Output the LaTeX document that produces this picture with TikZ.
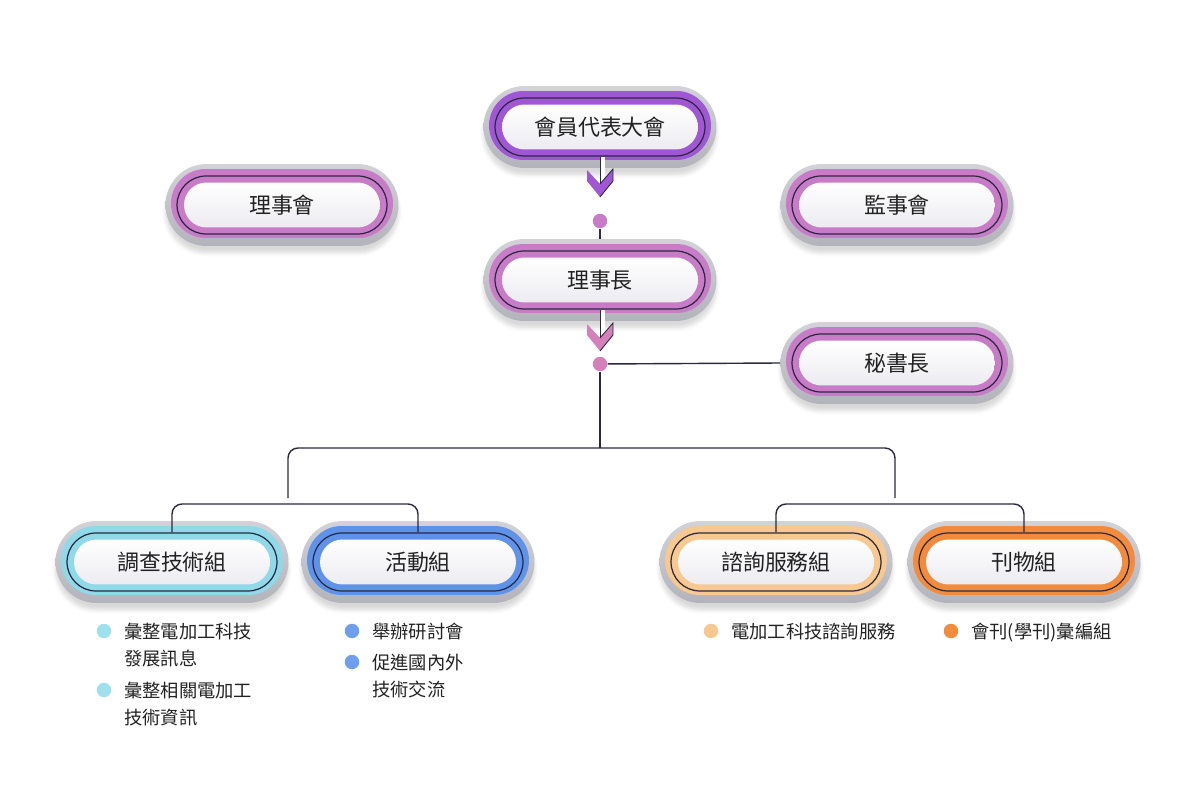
\documentclass[tikz,border=0pt]{standalone}
\usepackage{fontspec}
\setmainfont{Noto Sans CJK TC}
\usepackage{xcolor}
\usepackage{tikz}
\usetikzlibrary{positioning,calc,shapes.misc,shadows.blur}
\definecolor{ink}{HTML}{2B2940}
\definecolor{txt}{HTML}{222222}
\definecolor{shelltop}{HTML}{D2D2D8}
\definecolor{shellbot}{HTML}{B3B3BB}
\definecolor{coreb}{HTML}{ECECF1}
\definecolor{violet}{HTML}{9F57D3}
\definecolor{orchid}{HTML}{C87BC7}
\definecolor{rose}{HTML}{D580BA}
\definecolor{sky}{HTML}{8FD9E9}
\definecolor{azure}{HTML}{5F93EA}
\definecolor{peach}{HTML}{F7C88F}
\definecolor{tangerine}{HTML}{F28C3C}
\tikzset{
  shell/.style={rounded rectangle,inner sep=0pt,minimum width=46.6mm,minimum height=16.4mm,
    top color=shelltop,bottom color=shellbot,
    blur shadow={shadow xshift=0pt,shadow yshift=-1.4mm,shadow opacity=15,shadow blur steps=6}},
  band/.style={rounded rectangle,inner sep=0pt,minimum width=44.4mm,minimum height=13.8mm,
    fill=#1,yshift=0.3mm},
  rim/.style={rounded rectangle,inner sep=0pt,minimum width=42mm,minimum height=11.6mm,
    draw=ink,line width=0.7pt,fill=#1},
  core/.style={rounded rectangle,inner sep=0pt,minimum width=39.2mm,minimum height=9mm,
    top color=white,bottom color=coreb,text=txt,font=\fontsize{12.5}{15}\selectfont},
  link/.style={draw=ink,line width=0.8pt},
  joint/.style={circle,inner sep=0pt,minimum size=2.9mm,fill=#1},
  bullet/.style={circle,inner sep=0pt,minimum size=2.9mm,fill=#1},
  item/.style={anchor=base west,inner sep=0pt,align=left,text=txt,
    font=\fontsize{10.4}{15.3}\selectfont},
  shaft/.style={draw=ink,double=white,line width=0.5pt,double distance=0.8mm},
  % chevron head of the hollow arrows, tip at the origin
  pics/chev/.style={code={
    \path[pic actions] (-13,-27) -- (0,-13) -- (13,-28) -- (13,-16) -- (0,0) -- (-13,-16) -- cycle;
    \draw[ink,line width=0.5pt] (0,-13) -- (13,-28) -- (13,-16) -- (0,0);
  }},
}
% #1 name, #2 centre, #3 band colour, #4 label
\newcommand{\orgbox}[4]{%
  \node[shell] (#1-s) at (#2) {};
  \node[band=#3] at (#2) {};
  \node[rim=#3] (#1) at (#2) {};
  \node[core] (#1-t) at (#2) {#4};
}

\begin{document}
\begin{tikzpicture}[x=0.02cm,y=-0.02cm]
  \useasboundingbox (0,0) rectangle (1200,800);

  \orgbox{assembly}{600,127}{violet}{會員代表大會}
  \orgbox{board}{282,205}{orchid}{理事會}
  \orgbox{supervisors}{897,205}{orchid}{監事會}
  \orgbox{chair}{600,280}{orchid}{理事長}
  \orgbox{secretary}{897,363}{orchid}{秘書長}
  \orgbox{survey}{172,562}{sky}{調查技術組}
  \orgbox{events}{418,562}{azure}{活動組}
  \orgbox{consult}{776,562}{peach}{諮詢服務組}
  \orgbox{journal}{1024,562}{tangerine}{刊物組}

  \node[joint=orchid] (j1) at (600,221) {};
  \node[joint=rose] (j2) at (600,364) {};
  \coordinate (c1) at (600,197);
  \coordinate (c2) at (600,351);
  \coordinate (hub) at (600,448);
  \coordinate (lt) at (288,498);
  \coordinate (rt) at (895,498);
  \coordinate (ltb) at (288,504);
  \coordinate (rtb) at (895,504);

  % hollow arrows
  \draw[shaft] ($(assembly.south)+(2.5,0)$) -- ($(c1)+(2.5,-13)$);
  \pic[fill=violet] at (c1) {chev};
  \draw[shaft] ($(chair.south)+(2.5,0)$) -- ($(c2)+(2.5,-13)$);
  \pic[fill=rose] at (c2) {chev};

  % tree
  \draw[link] (j1) -- (chair-s.north);
  \draw[link] (j2) -- (secretary-s.west);
  \draw[link] (j2) -- (hub);
  \draw[link,rounded corners=2mm] (lt) |- (hub) -| (rt);
  \draw[link,rounded corners=2mm] (survey.north) |- (ltb) -| (events.north);
  \draw[link,rounded corners=2mm] (consult.north) |- (rtb) -| (journal.north);

  % duties (base = last line)
  \node[bullet=sky!85!white] (b1) at (104,631) {};
  \node[item] (t1) at (124,665) {彙整電加工科技\\發展訊息};
  \node[bullet=sky!85!white] (b2) at (104,690) {};
  \node[item] (t2) at (124,724) {彙整相關電加工\\技術資訊};
  \node[bullet=azure!90!white] (b3) at (352,631) {};
  \node[item] (t3) at (372,638) {舉辦研討會};
  \node[bullet=azure!90!white] (b4) at (352,662) {};
  \node[item] (t4) at (372,696) {促進國內外\\技術交流};
  \node[bullet=peach] (b5) at (711,631) {};
  \node[item] (t5) at (731,638) {電加工科技諮詢服務};
  \node[bullet=tangerine] (b6) at (951,631) {};
  \node[item] (t6) at (971,638) {會刊(學刊)彙編組};
\end{tikzpicture}
\end{document}
